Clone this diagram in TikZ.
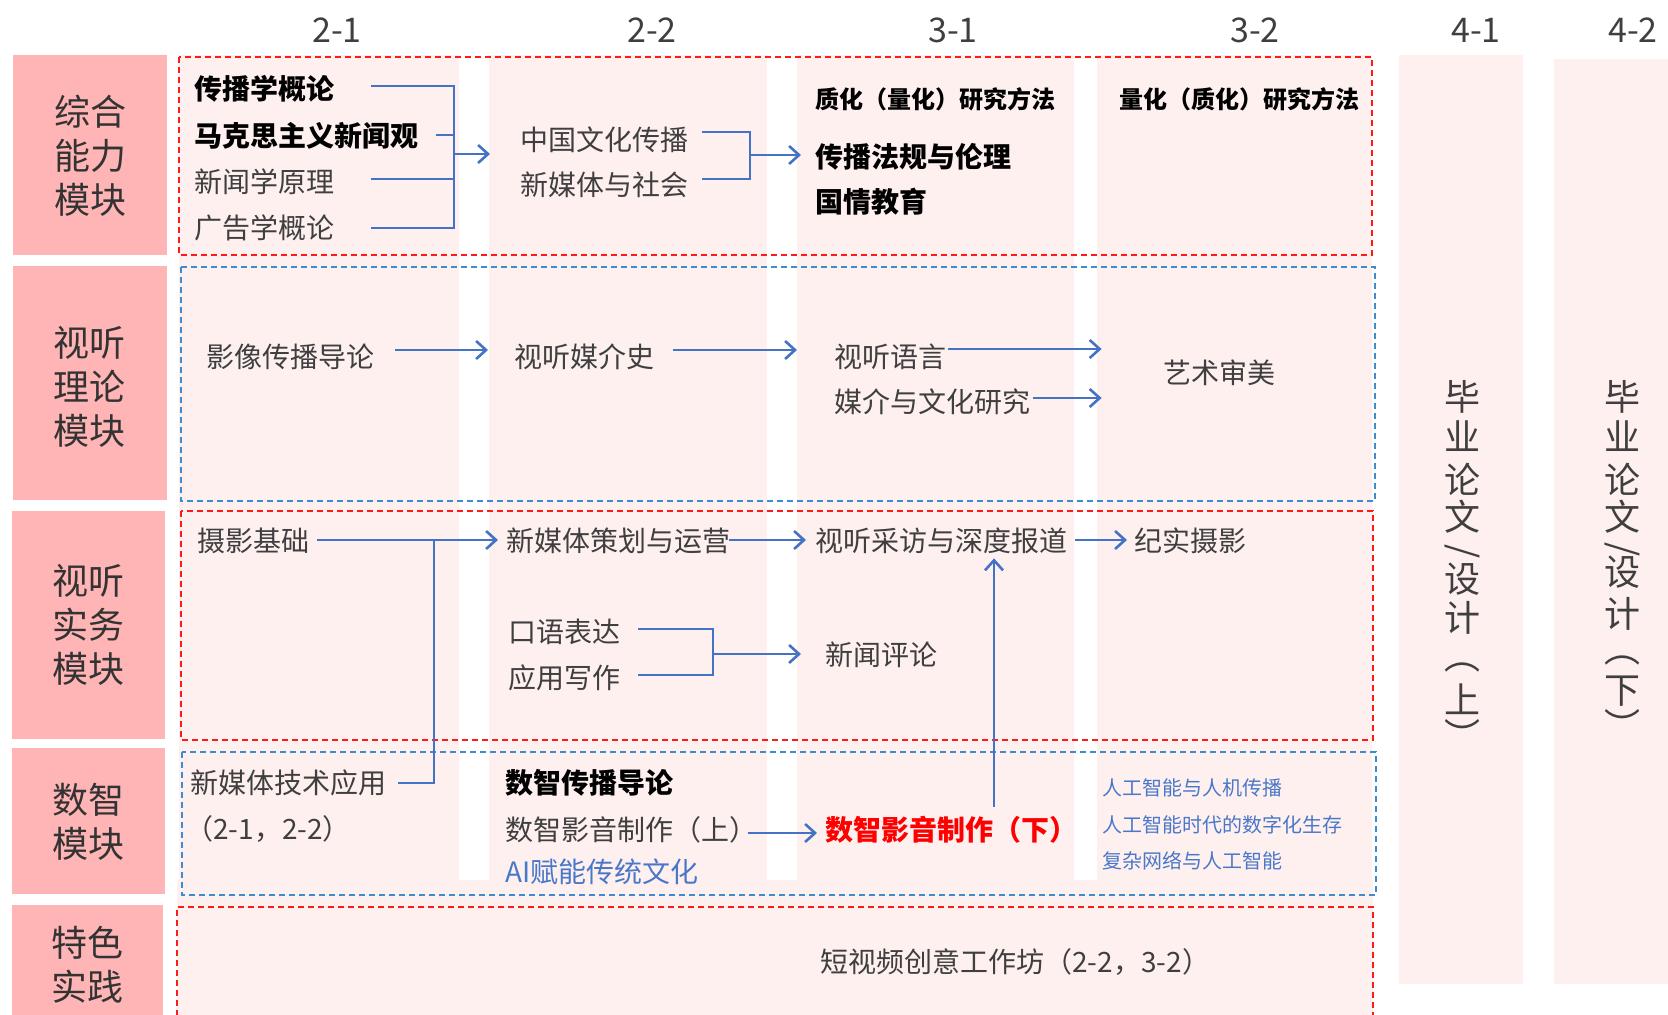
\documentclass[tikz,border=0pt]{standalone}
\usepackage{fontspec}
\setmainfont{Noto Sans CJK SC}
\usepackage{graphicx}
\usetikzlibrary{arrows.meta,calc}
\definecolor{lblpink}{HTML}{FFB5B5}
\definecolor{colbg}{HTML}{FFF0F0}
\definecolor{dashred}{HTML}{FF1A1A}
\definecolor{dashblue}{HTML}{3D8BD0}
\definecolor{arrblue}{HTML}{4472C4}
\definecolor{txtgray}{HTML}{3F3F3F}
\definecolor{txtblue}{HTML}{4A78C8}
\definecolor{txtred}{HTML}{FF0000}
\begin{document}
\begin{tikzpicture}[x=0.5pt,y=-0.5pt,
 txt/.style={anchor=west,inner sep=0pt,text=txtgray,font=\fontsize{14pt}{16pt}\selectfont},
 btxt/.style={txt,text=black,font=\fontsize{14pt}{16pt}\selectfont\bfseries},
 sbtxt/.style={txt,text=black,font=\fontsize{12pt}{14pt}\selectfont\bfseries},
 stxt/.style={txt,text=txtblue,font=\fontsize{10pt}{12pt}\selectfont},
 hdr/.style={inner sep=0pt,text=txtgray,font=\fontsize{17pt}{19pt}\selectfont},
 lbl/.style={inner sep=0pt,align=center,text=black!80,font=\fontsize{18pt}{22pt}\selectfont},
 vp/.style={inner sep=0pt,text=txtgray,font=\fontsize{18pt}{20pt}\selectfont},
 vt/.style={vp,text height=11.5pt,text depth=1pt},
 conn/.style={draw=arrblue,line width=1.3pt},
 arr/.style={conn,-{Straight Barb[length=5pt,width=9pt]}},
 rbox/.style={draw=dashred,line width=1pt,dash pattern=on 3.2pt off 1.8pt},
 bbox/.style={draw=dashblue,line width=1pt,dash pattern=on 3.2pt off 1.8pt},
]
\useasboundingbox (0,0) rectangle (1668,1015);
% backgrounds
\fill[colbg] (179,55) rectangle (459,880);
\fill[colbg] (489,55) rectangle (767,880);
\fill[colbg] (797,55) rectangle (1074,880);
\fill[colbg] (1097,55) rectangle (1372,880);
\fill[colbg] (177,880) rectangle (1373,1015);
\fill[colbg] (1399,55) rectangle (1523,984);
\fill[colbg] (1554,59) rectangle (1668,984);
% module label boxes
\fill[lblpink] (13,55) rectangle (167,255);
\fill[lblpink] (13,266) rectangle (167,500);
\fill[lblpink] (12,511) rectangle (165,739);
\fill[lblpink] (12,748) rectangle (165,894);
\fill[lblpink] (12,905) rectangle (163,1015);
\node[lbl] (m1) at (90,156) {综合\\能力\\模块};
\node[lbl] (m2) at (89,387) {视听\\理论\\模块};
\node[lbl] (m3) at (88,625) {视听\\实务\\模块};
\node[lbl] (m4) at (88,822) {数智\\模块};
\node[lbl] (m5) at (87,965) {特色\\实践};
% dashed boxes
\draw[rbox] (179,57) rectangle (1372,255);
\draw[bbox] (181,267) rectangle (1375,501);
\draw[rbox] (181,511) rectangle (1373,740);
\draw[bbox] (182,752) rectangle (1376,895);
\draw[rbox] (177,1016) -- (177,907) -- (1373,907) -- (1373,1016);
% headers
\node[hdr] (h21) at (337,30) {2-1};
\node[hdr] (h22) at (652,30) {2-2};
\node[hdr] (h31) at (953,30) {3-1};
\node[hdr] (h32) at (1255,30) {3-2};
\node[hdr] (h41) at (1476,30) {4-1};
\node[hdr] (h42) at (1633,30) {4-2};
% row 1
\node[btxt] (t1) at (194,89) {传播学概论};
\node[btxt] (t2) at (194,136) {马克思主义新闻观};
\node[txt] (t3) at (194,182) {新闻学原理};
\node[txt] (t4) at (194,228) {广告学概论};
\node[txt] (u1) at (520,140) {中国文化传播};
\node[txt] (u2) at (520,185) {新媒体与社会};
\node[sbtxt] (v1) at (815,99) {质化（量化）研究方法};
\node[btxt] (v2) at (815,157) {传播法规与伦理};
\node[btxt] (v3) at (815,202) {国情教育};
\node[sbtxt] (w1) at (1119,99) {量化（质化）研究方法};
\coordinate (j1) at (454,154);
\coordinate (j2) at (750,155);
\draw[conn] ($(t1.east)+(36,-3)$) -| (j1);
\draw[conn] ($(t2.east)+(17,-1)$) -| (j1);
\draw[conn] ($(t3.east)+(36,-3)$) -| (j1);
\draw[conn] ($(t4.east)+(36,0)$) -| (j1);
\draw[arr] (j1) -- ($(j1 -| u1.west)+(-30,0)$);
\draw[conn] ($(u1.east)+(13,-8)$) -| (j2);
\draw[conn] ($(u2.east)+(13,-6)$) -| (j2);
\draw[arr] (j2) -- ($(j2 -| v2.west)+(-14,0)$);
% row 2
\node[txt] (a1) at (206,357) {影像传播导论};
\node[txt] (a2) at (514,357) {视听媒介史};
\node[txt] (a3) at (834,357) {视听语言};
\node[txt] (a4) at (834,402) {媒介与文化研究};
\node[inner sep=0pt,text=txtgray,font=\fontsize{14pt}{16pt}\selectfont] (a5) at (1219,373) {艺术审美};
\draw[arr] ($(a1.east)+(20,-7)$) -- ($(a2.west)+(-26,-7)$);
\draw[arr] ($(a2.east)+(18,-7)$) -- ($(a3.west)+(-37,-7)$);
\draw[arr] ($(a3.east)+(1,-8)$) -- ($(a3.east -| a5.west)+(-61,-8)$);
\draw[arr] ($(a4.east)+(2,-4)$) -- ($(a4.east -| a5.west)+(-61,-4)$);
% row 3
\node[txt] (b1) at (197,541) {摄影基础};
\node[txt] (b2) at (506,541) {新媒体策划与运营};
\node[txt] (b3) at (815,541) {视听采访与深度报道};
\node[txt] (b4) at (1134,541) {纪实摄影};
\node[txt] (b5) at (508,632) {口语表达};
\node[txt] (b6) at (508,678) {应用写作};
\node[txt] (b7) at (825,655) {新闻评论};
\coordinate (j3) at (434,540);
\coordinate (j4) at (713,654);
\coordinate (vx) at (994,0);
\draw[arr] ($(b1.east)+(7,-1)$) -- ($(b2.west)+(-8,-1)$);
\draw[arr] ($(b2.east)+(-2,-1)$) -- ($(b3.west)+(-9,-1)$);
\draw[arr] ($(b3.east)+(7,-1)$) -- ($(b4.west)+(-7,-1)$);
\draw[conn] ($(b5.east)+(17,-3)$) -| (j4);
\draw[conn] ($(b6.east)+(17,-3)$) -| (j4);
\draw[arr] (j4) -- ($(j4 -| b7.west)+(-24,0)$);
% row 4
\node[txt] (d1) at (190,783) {新媒体技术应用};
\node[txt] (d2) at (185,829) {（2-1，2-2）};
\node[btxt] (d3) at (505,783) {数智传播导论};
\node[txt] (d4) at (505,830) {数智影音制作（上）};
\node[btxt,text=txtred] (d5) at (825,830) {数智影音制作（下）};
\node[txt,text=txtblue] (d6) at (505,872) {AI赋能传统文化};
\node[stxt] (e1) at (1102,788) {人工智能与人机传播};
\node[stxt] (e2) at (1102,825) {人工智能时代的数字化生存};
\node[stxt] (e3) at (1102,861) {复杂网络与人工智能};
\draw[conn] ($(d1.east)+(11,0)$) -| (j3);
\draw[arr] ($(d4.east)+(-10,3)$) -- ($(d5.west)+(-8,3)$);
\draw[arr] ($(d5.north -| vx)+(0,-9)$) -- ($(b3.south -| vx)+(0,4)$);
% row 5
\node[txt] (f1) at (820,962) {短视频创意工作坊（2-2，3-2）};
% vertical thesis columns
\foreach \c/\y [count=\i] in {毕/400,业/440,论/483,文/520,{\rotatebox{90}{/}}/548,设/582,计/621}
  {\node[vt] (p\i) at (1462,\y) {\c};}
\node[vp] (p8) at (1462,667) {︵};
\node[vt] (p9) at (1462,703) {上};
\node[vp] (p10) at (1462,734) {︶};
\foreach \c/\y [count=\i] in {毕/400,业/440,论/483,文/520,{\rotatebox{90}{/}}/546,设/575,计/617}
  {\node[vt] (q\i) at (1622,\y) {\c};}
\node[vp] (q8) at (1622,660) {︵};
\node[vt] (q9) at (1622,693) {下};
\node[vp] (q10) at (1622,724) {︶};
\end{tikzpicture}
\end{document}
